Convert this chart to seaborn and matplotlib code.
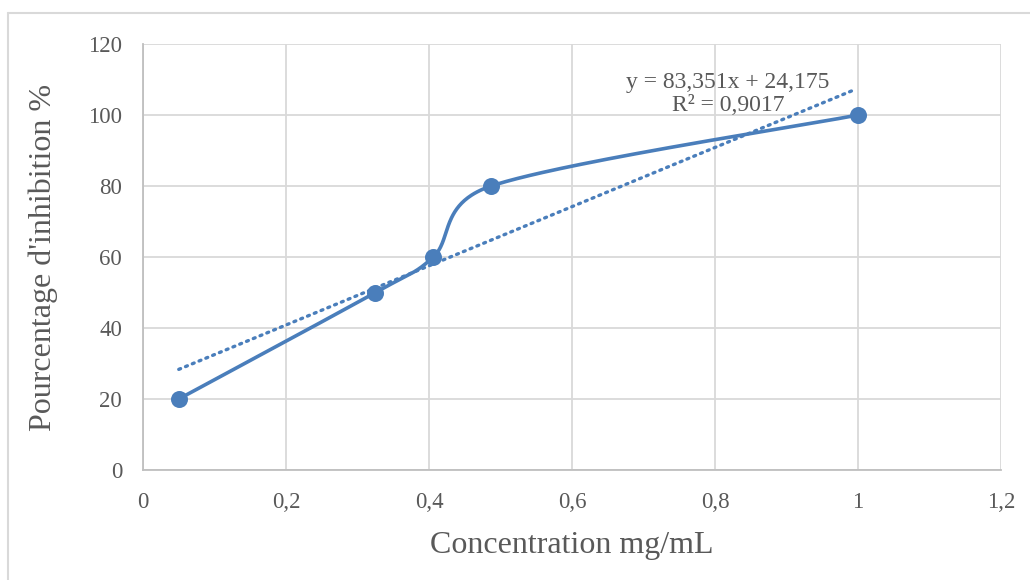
import numpy as np
import pandas as pd
import matplotlib
matplotlib.use('Agg')
import matplotlib.pyplot as plt
import seaborn as sns

# Data
concentration = [0.05, 0.325, 0.406, 0.487, 1.0]
inhibition = [20, 50, 60, 80, 100]
slope, intercept = 83.351, 24.175
eq_text = 'y = 83,351x + 24,175'
r2_text = 'R² = 0,9017'
x_ticklabels = ['0', '0,2', '0,4', '0,6', '0,8', '1', '1,2']

blue = '#4A7EBB'
grey_txt = '#595959'


def excel_smooth(ax, xs, ys, n=80):
    # Excel-like smoothed line: Catmull-Rom Bezier in screen space,
    # handles capped relative to the segment length (avoids loops)
    pts = ax.transData.transform(np.column_stack([xs, ys]))
    m = len(pts)
    out = []
    for i in range(m - 1):
        p0 = pts[max(i - 1, 0)]
        p1 = pts[i]
        p2 = pts[i + 1]
        p3 = pts[min(i + 2, m - 1)]
        d12 = np.linalg.norm(p2 - p1)
        h1 = (p2 - p0) / 6
        h2 = (p3 - p1) / 6
        cap = 0.6 * d12
        if np.linalg.norm(h1) > cap:
            h1 = h1 * cap / np.linalg.norm(h1)
        if np.linalg.norm(h2) > cap:
            h2 = h2 * cap / np.linalg.norm(h2)
        c1 = p1 + h1
        c2 = p2 - h2
        t = np.linspace(0, 1, n)[:, None]
        seg = ((1 - t) ** 3) * p1 + 3 * ((1 - t) ** 2) * t * c1 + 3 * (1 - t) * t ** 2 * c2 + t ** 3 * p2
        out.append(seg if i == 0 else seg[1:])
    seg = ax.transData.inverted().transform(np.vstack(out))
    return pd.DataFrame({'x': seg[:, 0], 'y': seg[:, 1]})


df = pd.DataFrame({'x': concentration, 'y': inhibition})
trend_x = np.linspace(min(concentration), 0.995, 2)
trend = pd.DataFrame({'x': trend_x, 'y': slope * trend_x + intercept})

sns.set_theme(style='whitegrid')
plt.rcParams['font.family'] = ['Liberation Serif', 'DejaVu Serif']

fig = plt.figure(figsize=(10.3, 5.8), dpi=100)
ax = fig.add_axes([143 / 1030, 1 - 470 / 580, (1001 - 143) / 1030, (470 - 44) / 580])
ax.set_xlim(0, 1.2)
ax.set_ylim(0, 120)

smooth = excel_smooth(ax, concentration, inhibition)

sns.lineplot(data=smooth, x='x', y='y', ax=ax, color=blue, linewidth=2.6,
             sort=False, estimator=None)
sns.scatterplot(data=df, x='x', y='y', ax=ax, color=blue, s=150,
                edgecolor=blue, linewidth=0, zorder=5)
sns.lineplot(data=trend, x='x', y='y', ax=ax, color=blue, linewidth=2.4,
             linestyle=(0, (0.6, 1.6)), dash_capstyle='round')

ax.set_xlim(0, 1.2)
ax.set_ylim(0, 120)
ax.set_xticks(np.arange(0, 1.21, 0.2))
ax.set_yticks(range(0, 121, 20))
ax.set_xticklabels(x_ticklabels)
ax.grid(True, color='#D9D9D9', linewidth=1.3)
ax.set_facecolor('white')
for side in ['top', 'right']:
    ax.spines[side].set_visible(False)
for side in ['left', 'bottom']:
    ax.spines[side].set_color('#BFBFBF')
    ax.spines[side].set_linewidth(1.3)
ax.tick_params(axis='both', length=0, labelsize=16.5, colors=grey_txt)
ax.tick_params(axis='y', pad=15)
ax.tick_params(axis='x', pad=16)

ax.set_xlabel('Concentration mg/mL', fontsize=23, color=grey_txt, labelpad=13)
ax.set_ylabel("Pourcentage d'inhibition %", fontsize=23, color=grey_txt, labelpad=22)

ax.text(0.818, 106, eq_text + '\n' + r2_text, ha='center', va='center',
        fontsize=17, color=grey_txt, linespacing=1.15, zorder=6)

# outer chart border
fig.add_artist(plt.Line2D([8 / 1030, 1], [1 - 13 / 580] * 2, color='#D9D9D9', linewidth=1.5))
fig.add_artist(plt.Line2D([8 / 1030] * 2, [0, 1 - 13 / 580], color='#D9D9D9', linewidth=1.5))

fig.savefig('out.png', dpi=100, facecolor='white')
